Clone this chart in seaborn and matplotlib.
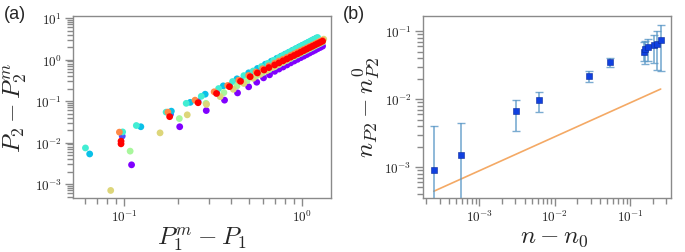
import numpy as np
import pandas as pd
import seaborn as sns
import matplotlib
matplotlib.use("Agg")
import matplotlib.pyplot as plt
from matplotlib.ticker import FuncFormatter, NullFormatter, LogLocator

# ---- panel (a) data: P1^m - P1 vs P2 - P2^m, one series per colour
x_purple = [0.110, 0.205, 0.289, 0.366, 0.433, 0.500, 0.555, 0.606, 0.655, 0.700, 0.74, 0.78, 0.82,
            0.86, 0.90, 0.94, 0.98, 1.02, 1.06, 1.10, 1.14, 1.18, 1.22, 1.26, 1.30]
y_purple = [0.0029, 0.024, 0.059, 0.105, 0.157, 0.22, 0.284, 0.362, 0.428, 0.52, 0.59, 0.66, 0.74,
            0.83, 0.92, 1.01, 1.11, 1.21, 1.32, 1.44, 1.56, 1.68, 1.82, 1.95, 2.10]
x_blue = [0.0975, 0.182, 0.26, 0.33, 0.39, 0.45, 0.51, 0.56, 0.61, 0.66, 0.71, 0.76, 0.81, 0.86,
          0.91, 0.96, 1.01, 1.06, 1.11, 1.16, 1.21, 1.26]
y_blue = [0.0143, 0.048, 0.097, 0.16, 0.235, 0.315, 0.405, 0.50, 0.59, 0.69, 0.80, 0.92, 1.05, 1.20,
          1.34, 1.50, 1.67, 1.87, 2.06, 2.27, 2.48, 2.72]
x_sky = [0.064, 0.124, 0.184, 0.235, 0.285, 0.36, 0.43, 0.50, 0.56, 0.62, 0.67, 0.72, 0.76, 0.80,
         0.84, 0.88, 0.92, 0.96, 1.00, 1.04, 1.08, 1.12, 1.16, 1.20]
y_sky = [0.0053, 0.024, 0.057, 0.093, 0.146, 0.232, 0.343, 0.478, 0.61, 0.77, 0.91, 1.07, 1.20, 1.34,
         1.49, 1.66, 1.83, 2.01, 2.20, 2.39, 2.60, 2.82, 3.05, 3.28]
x_turq = [0.0606, 0.098, 0.117, 0.172, 0.223, 0.271, 0.339, 0.406, 0.47, 0.53, 0.59, 0.64, 0.69,
          0.74, 0.78, 0.82, 0.86, 0.90, 0.94, 0.98, 1.02, 1.06, 1.10, 1.14, 1.18, 1.22]
y_turq = [0.0074, 0.018, 0.0257, 0.054, 0.088, 0.13, 0.20, 0.295, 0.41, 0.53, 0.68, 0.81, 0.96,
          1.12, 1.26, 1.41, 1.56, 1.73, 1.90, 2.09, 2.28, 2.48, 2.70, 2.92, 3.15, 3.40]
x_lgreen = [0.108, 0.204, 0.288, 0.363, 0.43, 0.49, 0.55, 0.60, 0.65, 0.70, 0.74, 0.78, 0.82, 0.86,
            0.90, 0.94, 0.98, 1.02, 1.06, 1.10, 1.14, 1.18, 1.22, 1.26, 1.30]
y_lgreen = [0.0062, 0.0378, 0.088, 0.16, 0.232, 0.309, 0.397, 0.481, 0.57, 0.67, 0.76, 0.85, 0.95,
            1.06, 1.17, 1.29, 1.41, 1.54, 1.67, 1.81, 1.96, 2.12, 2.28, 2.44, 2.62]
x_khaki = [0.084, 0.159, 0.226, 0.29, 0.346, 0.41, 0.47, 0.53, 0.58, 0.63, 0.68, 0.72, 0.76, 0.80,
           0.84, 0.88, 0.92, 0.96, 1.00, 1.04, 1.08, 1.12, 1.16, 1.20, 1.24, 1.28, 1.32]
y_khaki = [0.0007, 0.0171, 0.0465, 0.083, 0.128, 0.192, 0.265, 0.353, 0.438, 0.533, 0.639, 0.732,
           0.833, 0.941, 1.057, 1.18, 1.31, 1.45, 1.60, 1.76, 1.92, 2.10, 2.28, 2.47, 2.67, 2.88, 3.10]
x_orange = [0.094, 0.176, 0.25, 0.32, 0.381, 0.44, 0.50, 0.55, 0.60, 0.65, 0.70, 0.74, 0.78, 0.82,
            0.86, 0.90, 0.94, 0.98, 1.02, 1.06, 1.10, 1.14, 1.18, 1.22, 1.26, 1.30]
y_orange = [0.0178, 0.054, 0.105, 0.167, 0.237, 0.318, 0.413, 0.50, 0.60, 0.705, 0.82, 0.92, 1.02,
            1.13, 1.25, 1.37, 1.50, 1.63, 1.77, 1.91, 2.06, 2.22, 2.38, 2.55, 2.72, 2.90]
x_red = [0.096, 0.096, 0.18, 0.26, 0.33, 0.39, 0.45, 0.51, 0.56, 0.61, 0.65, 0.70, 0.74, 0.78, 0.82,
         0.86, 0.90, 0.94, 0.98, 1.02, 1.06, 1.10, 1.14, 1.18, 1.22, 1.26, 1.30]
y_red = [0.0108, 0.0093, 0.042, 0.091, 0.152, 0.222, 0.298, 0.385, 0.475, 0.56, 0.64, 0.74, 0.83,
         0.93, 1.03, 1.14, 1.25, 1.37, 1.50, 1.64, 1.78, 1.93, 2.08, 2.24, 2.41, 2.58, 2.76]

series_names = ["purple", "blue", "sky", "turq", "lgreen", "khaki", "orange", "red"]
series_x = [x_purple, x_blue, x_sky, x_turq, x_lgreen, x_khaki, x_orange, x_red]
series_y = [y_purple, y_blue, y_sky, y_turq, y_lgreen, y_khaki, y_orange, y_red]

# ---- panel (b) data: n - n0 vs n_P2 - n_P2^0 with asymmetric errors
n_x = [2.5e-4, 5.7e-4, 3.1e-3, 6.2e-3, 0.029, 0.055, 0.153, 0.160, 0.175, 0.206, 0.230, 0.255]
n_y = [9.0e-4, 1.5e-3, 6.6e-3, 9.6e-3, 0.0222, 0.0354, 0.050, 0.055, 0.058, 0.062, 0.065, 0.0745]
n_lo = [1e-5, 1e-5, 3.4e-3, 6.4e-3, 0.0177, 0.0296, 0.037, 0.033, 0.037, 0.034, 0.027, 0.026]
n_hi = [4.0e-3, 4.5e-3, 9.7e-3, 0.0128, 0.0264, 0.040, 0.069, 0.073, 0.077, 0.089, 0.102, 0.124]
fit_x = [2.5e-4, 0.255]
fit_y = [4.4e-4, 0.0141]

sns.set_style("ticks")
plt.rcParams["mathtext.fontset"] = "cm"
plt.rcParams["font.family"] = ["DejaVu Sans"]

grey = "#8a8a8a"
cmap = plt.get_cmap("rainbow")
palette = [cmap(v) for v in [0.0, 0.1, 0.27, 0.38, 0.58, 0.68, 0.82, 1.0]]

df = pd.concat([pd.DataFrame({"x": xs, "y": ys, "series": nm})
                for nm, xs, ys in zip(series_names, series_x, series_y)], ignore_index=True)

fig = plt.figure(figsize=(6.85, 2.53), dpi=100)
ax1 = fig.add_axes([0.1066, 0.2134, 0.377, 0.7194])
ax2 = fig.add_axes([0.617, 0.2134, 0.3625, 0.7194])

sns.scatterplot(data=df, x="x", y="y", hue="series", hue_order=series_names, palette=palette,
                s=24, linewidth=0, legend=False, ax=ax1)
ax1.set_xscale("log")
ax1.set_yscale("log")
ax1.set_xlim(0.0516, 1.455)
ax1.set_ylim(4.6e-4, 11.2)

dfb = pd.DataFrame({"x": n_x, "y": n_y})
yerr = [np.array(n_y) - np.array(n_lo), np.array(n_hi) - np.array(n_y)]
ax2.errorbar(n_x, n_y, yerr=yerr, fmt="none", ecolor="#5a98c6", elinewidth=1.2,
             capsize=2.6, capthick=1.0, alpha=0.8, zorder=2)
sns.lineplot(x=fit_x, y=fit_y, color="#f4a965", linewidth=1.2, ax=ax2, zorder=1)
sns.scatterplot(data=dfb, x="x", y="y", marker="s", s=14, color="#1040e0",
                edgecolor="#0a2a9a", linewidth=0.4, ax=ax2, zorder=3)
ax2.set_xscale("log")
ax2.set_yscale("log")
ax2.set_xlim(1.78e-4, 0.349)
ax2.set_ylim(3.5e-4, 0.168)

fmt = FuncFormatter(lambda v, p: r"$10^{%d}$" % int(round(np.log10(v))))
for ax in (ax1, ax2):
    for sp in ax.spines.values():
        sp.set_color(grey)
        sp.set_linewidth(1.0)
    for axis in (ax.xaxis, ax.yaxis):
        axis.set_major_formatter(fmt)
        axis.set_minor_formatter(NullFormatter())
        axis.set_minor_locator(LogLocator(base=10, subs=np.arange(2, 10), numticks=20))
    ax.tick_params(which="major", direction="out", length=6, width=1, color=grey,
                   labelsize=9.5, labelcolor="#222222", pad=2)
    ax.tick_params(which="minor", direction="out", length=4.5, width=1, color=grey)

ax1.set_xlabel(r"$P_1^m - P_1$", fontsize=18)
ax1.set_ylabel(r"$P_2 - P_2^m$", fontsize=18)
ax1.yaxis.set_label_coords(-0.165, 0.5)
ax1.xaxis.set_label_coords(0.5, -0.145)
ax2.set_xlabel(r"$n - n_0$", fontsize=18)
ax2.set_ylabel(r"$n_{P2} - n_{P2}^0$", fontsize=18)
ax2.yaxis.set_label_coords(-0.16, 0.5)
ax2.xaxis.set_label_coords(0.53, -0.145)

fig.text(0.006, 0.975, "(a)", fontsize=13, va="top", ha="left", family="Liberation Sans")
fig.text(0.501, 0.975, "(b)", fontsize=13, va="top", ha="left", family="Liberation Sans")

fig.savefig("out.png", dpi=100)
